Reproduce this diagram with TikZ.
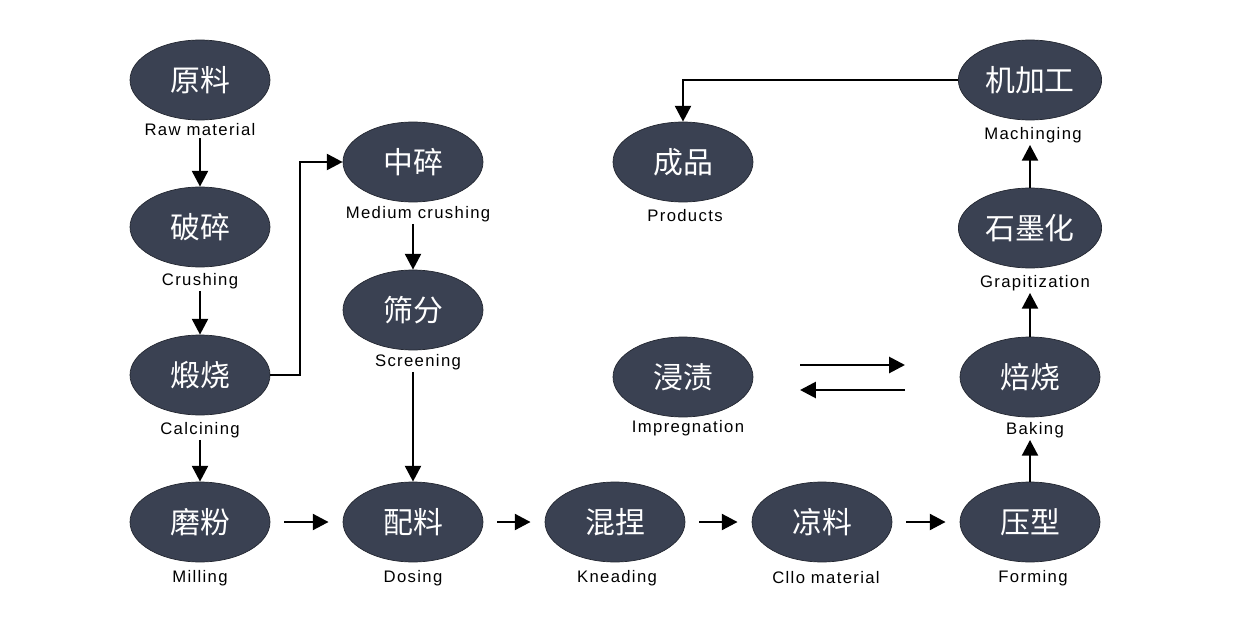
\documentclass[tikz,border=0pt]{standalone}
\usepackage{fontspec}
\setmainfont{Liberation Sans}
\newfontfamily\cjk{Noto Sans CJK SC}
\usetikzlibrary{shapes.geometric,arrows.meta}
\definecolor{stagefill}{HTML}{3A4152}
\tikzset{
    stage/.style = {ellipse, fill=stagefill, draw=stagefill!60!black, minimum width=2.8cm, minimum height=1.6cm, text=white, font=\cjk\fontsize{17}{17}\selectfont},
    stage-label/.style = {font=\fontsize{9.5}{10}\selectfont\addfontfeature{LetterSpace=8}, inner sep=1pt},
    flow/.style = {line width=1.6pt, -{Triangle[length=9pt,width=9pt]}},
}

\begin{document}
\begin{tikzpicture}[x=0.02cm,y=-0.02cm]
\useasboundingbox (0,0) rectangle (1234,632);
% process steps
\node[stage] (raw) at (200,80) {原料};
\node[stage-label] (rawL) at (200,130) {Raw material};
\node[stage] (crush) at (200,227) {破碎};
\node[stage-label] (crushL) at (200,281) {Crushing};
\node[stage] (calc) at (200,375) {煅烧};
\node[stage-label] (calcL) at (200,430) {Calcining};
\node[stage] (mill) at (200,522) {磨粉};
\node[stage-label] (millL) at (200,578) {Milling};
\node[stage] (medium) at (413,162) {中碎};
\node[stage-label] (mediumL) at (418,214) {Medium crushing};
\node[stage] (screen) at (413,310) {筛分};
\node[stage-label] (screenL) at (418,362) {Screening};
\node[stage] (dose) at (413,522) {配料};
\node[stage-label] (doseL) at (413,578) {Dosing};
\node[stage] (knead) at (615,522) {混捏};
\node[stage-label] (kneadL) at (617,578) {Kneading};
\node[stage] (cool) at (822,522) {凉料};
\node[stage-label] (coolL) at (826,578) {Cllo material};
\node[stage] (form) at (1030,522) {压型};
\node[stage-label] (formL) at (1033,578) {Forming};
\node[stage] (bake) at (1030,377) {焙烧};
\node[stage-label] (bakeL) at (1035,430) {Baking};
\node[stage] (graph) at (1030,228) {石墨化};
\node[stage-label] (graphL) at (1035,283) {Grapitization};
\node[stage] (machine) at (1030,80) {机加工};
\node[stage-label] (machineL) at (1033,135) {Machinging};
\node[stage] (product) at (683,162) {成品};
\node[stage-label] (productL) at (685,216) {Products};
\node[stage] (impreg) at (683,377) {浸渍};
\node[stage-label] (impregL) at (688,428) {Impregnation};
\coordinate (swapL) at (800,0);
\coordinate (swapR) at (905,0);
% connectors
\draw[flow] (rawL.south) -- (crush.north);
\draw[flow] (crushL.south) -- (calc.north);
\draw[flow] (calcL.south) -- (mill.north);
\draw[flow] (calc.east) -- (300,375) |- (medium.west);
\draw[flow] (mediumL.south -| medium) -- (screen.north);
\draw[flow] (screenL.south -| screen) -- (dose.north);
\draw[flow] ([xshift=8pt]mill.east) -- ([xshift=-8pt]dose.west);
\draw[flow] ([xshift=8pt]dose.east) -- ([xshift=-8pt]knead.west);
\draw[flow] ([xshift=8pt]knead.east) -- ([xshift=-8pt]cool.west);
\draw[flow] ([xshift=8pt]cool.east) -- ([xshift=-8pt]form.west);
\draw[flow] (form.north) -- (bakeL.south -| form);
\draw[flow] (bake.north) -- (graphL.south -| bake);
\draw[flow] (graph.north) -- (machineL.south -| graph);
\draw[flow] (machine.west) -| (product.north);
\draw[flow] (swapL |- 0,365) -- (swapR |- 0,365);
\draw[flow] (swapR |- 0,390) -- (swapL |- 0,390);
\end{tikzpicture}
\end{document}
